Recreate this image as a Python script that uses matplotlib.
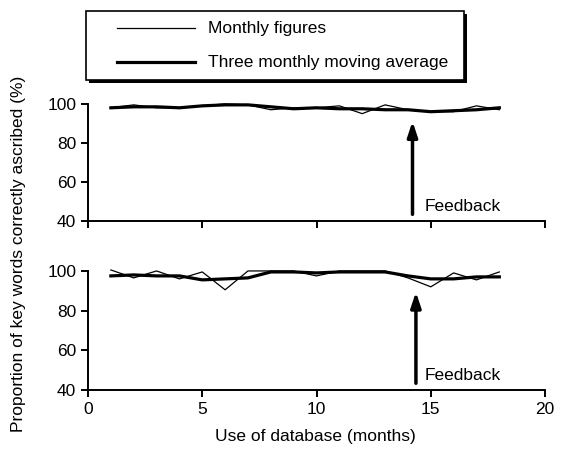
import matplotlib
matplotlib.use("Agg")
import matplotlib.pyplot as plt
from matplotlib.lines import Line2D
from matplotlib.patches import Rectangle

months = list(range(1, 19))

# top panel
top_monthly = [98, 99.5, 98, 98, 99, 100, 99.5, 97, 98, 98, 99, 95, 99.5, 97, 96, 96, 99, 97]
top_average = [98, 98.5, 98.5, 98, 99, 99.5, 99.5, 98.5, 97.5, 98, 97.5, 97.5, 97, 97, 96, 96.5, 97, 98]

# bottom panel
bottom_monthly = [100.5, 96.5, 100, 96, 99.5, 90.5, 100, 100, 100, 97.5, 100, 100, 100, 96.5, 92, 99, 95.5, 99.5]
bottom_average = [97.5, 98, 97.5, 97.5, 95.5, 96, 96.5, 99.5, 99.5, 99, 99.5, 99.5, 99.5, 97.5, 96, 96, 97, 97]

feedback_month = [14.2, 14.35]
feedback_tip = [92.5, 90.8]

legend_labels = ['Monthly figures', 'Three monthly moving average']

plt.rcParams['font.family'] = ['Liberation Sans', 'DejaVu Sans']
fs = 12.5

W, H = 570, 449
fig = plt.figure(figsize=(W / 100, H / 100), dpi=100)
ax1 = fig.add_axes([0.1544, 0.5078, 0.8018, 0.2695])
ax2 = fig.add_axes([0.1544, 0.1314, 0.8018, 0.274])

panels = [(ax1, top_monthly, top_average), (ax2, bottom_monthly, bottom_average)]
for i, (ax, monthly, average) in enumerate(panels):
    ax.plot(months, monthly, color='black', lw=0.9)
    ax.plot(months, average, color='black', lw=2.3)
    ax.set_xlim(0, 20)
    ax.set_ylim(40, 102)
    ax.set_xticks([0, 5, 10, 15, 20])
    ax.set_yticks([40, 60, 80, 100])
    ax.spines['top'].set_visible(False)
    ax.spines['right'].set_visible(False)
    ax.spines['left'].set_bounds(40, 100)
    ax.spines['left'].set_linewidth(1.4)
    ax.spines['bottom'].set_linewidth(1.4)
    ax.tick_params(direction='out', length=5, width=1.4, labelsize=fs)
    ax.annotate('', xy=(feedback_month[i], feedback_tip[i]), xytext=(feedback_month[i], 42),
                arrowprops=dict(arrowstyle='-|>,head_length=0.9,head_width=0.3',
                                lw=2.5, color='black'))
    ax.text(14.75, 43.5, 'Feedback', ha='left', va='bottom', fontsize=fs)

ax1.tick_params(axis='x', labelbottom=False)

fig.text(0.032, 0.434, 'Proportion of key words correctly ascribed (%)',
         rotation=90, ha='center', va='center', fontsize=fs)
fig.text(0.553, 0.027, 'Use of database (months)', ha='center', va='center', fontsize=fs)

# legend box with a solid drop shadow, drawn in figure pixels
def fx(x):
    return x / W

def fy(y):
    return 1 - y / H

fig.add_artist(Rectangle((fx(89), fy(83)), fx(378), 69 / H, facecolor='black',
                         edgecolor='none', transform=fig.transFigure))
fig.add_artist(Rectangle((fx(86), fy(80)), fx(378), 69 / H, facecolor='white',
                         edgecolor='black', lw=1.2, transform=fig.transFigure))
for row, (lw, label) in enumerate(zip([0.9, 2.3], legend_labels)):
    y = fy(28 + 34 * row)
    fig.add_artist(Line2D([fx(117), fx(195)], [y, y], color='black', lw=lw,
                          transform=fig.transFigure))
    fig.text(fx(208), y, label, ha='left', va='center', fontsize=fs)

fig.savefig('out.png', dpi=100)
